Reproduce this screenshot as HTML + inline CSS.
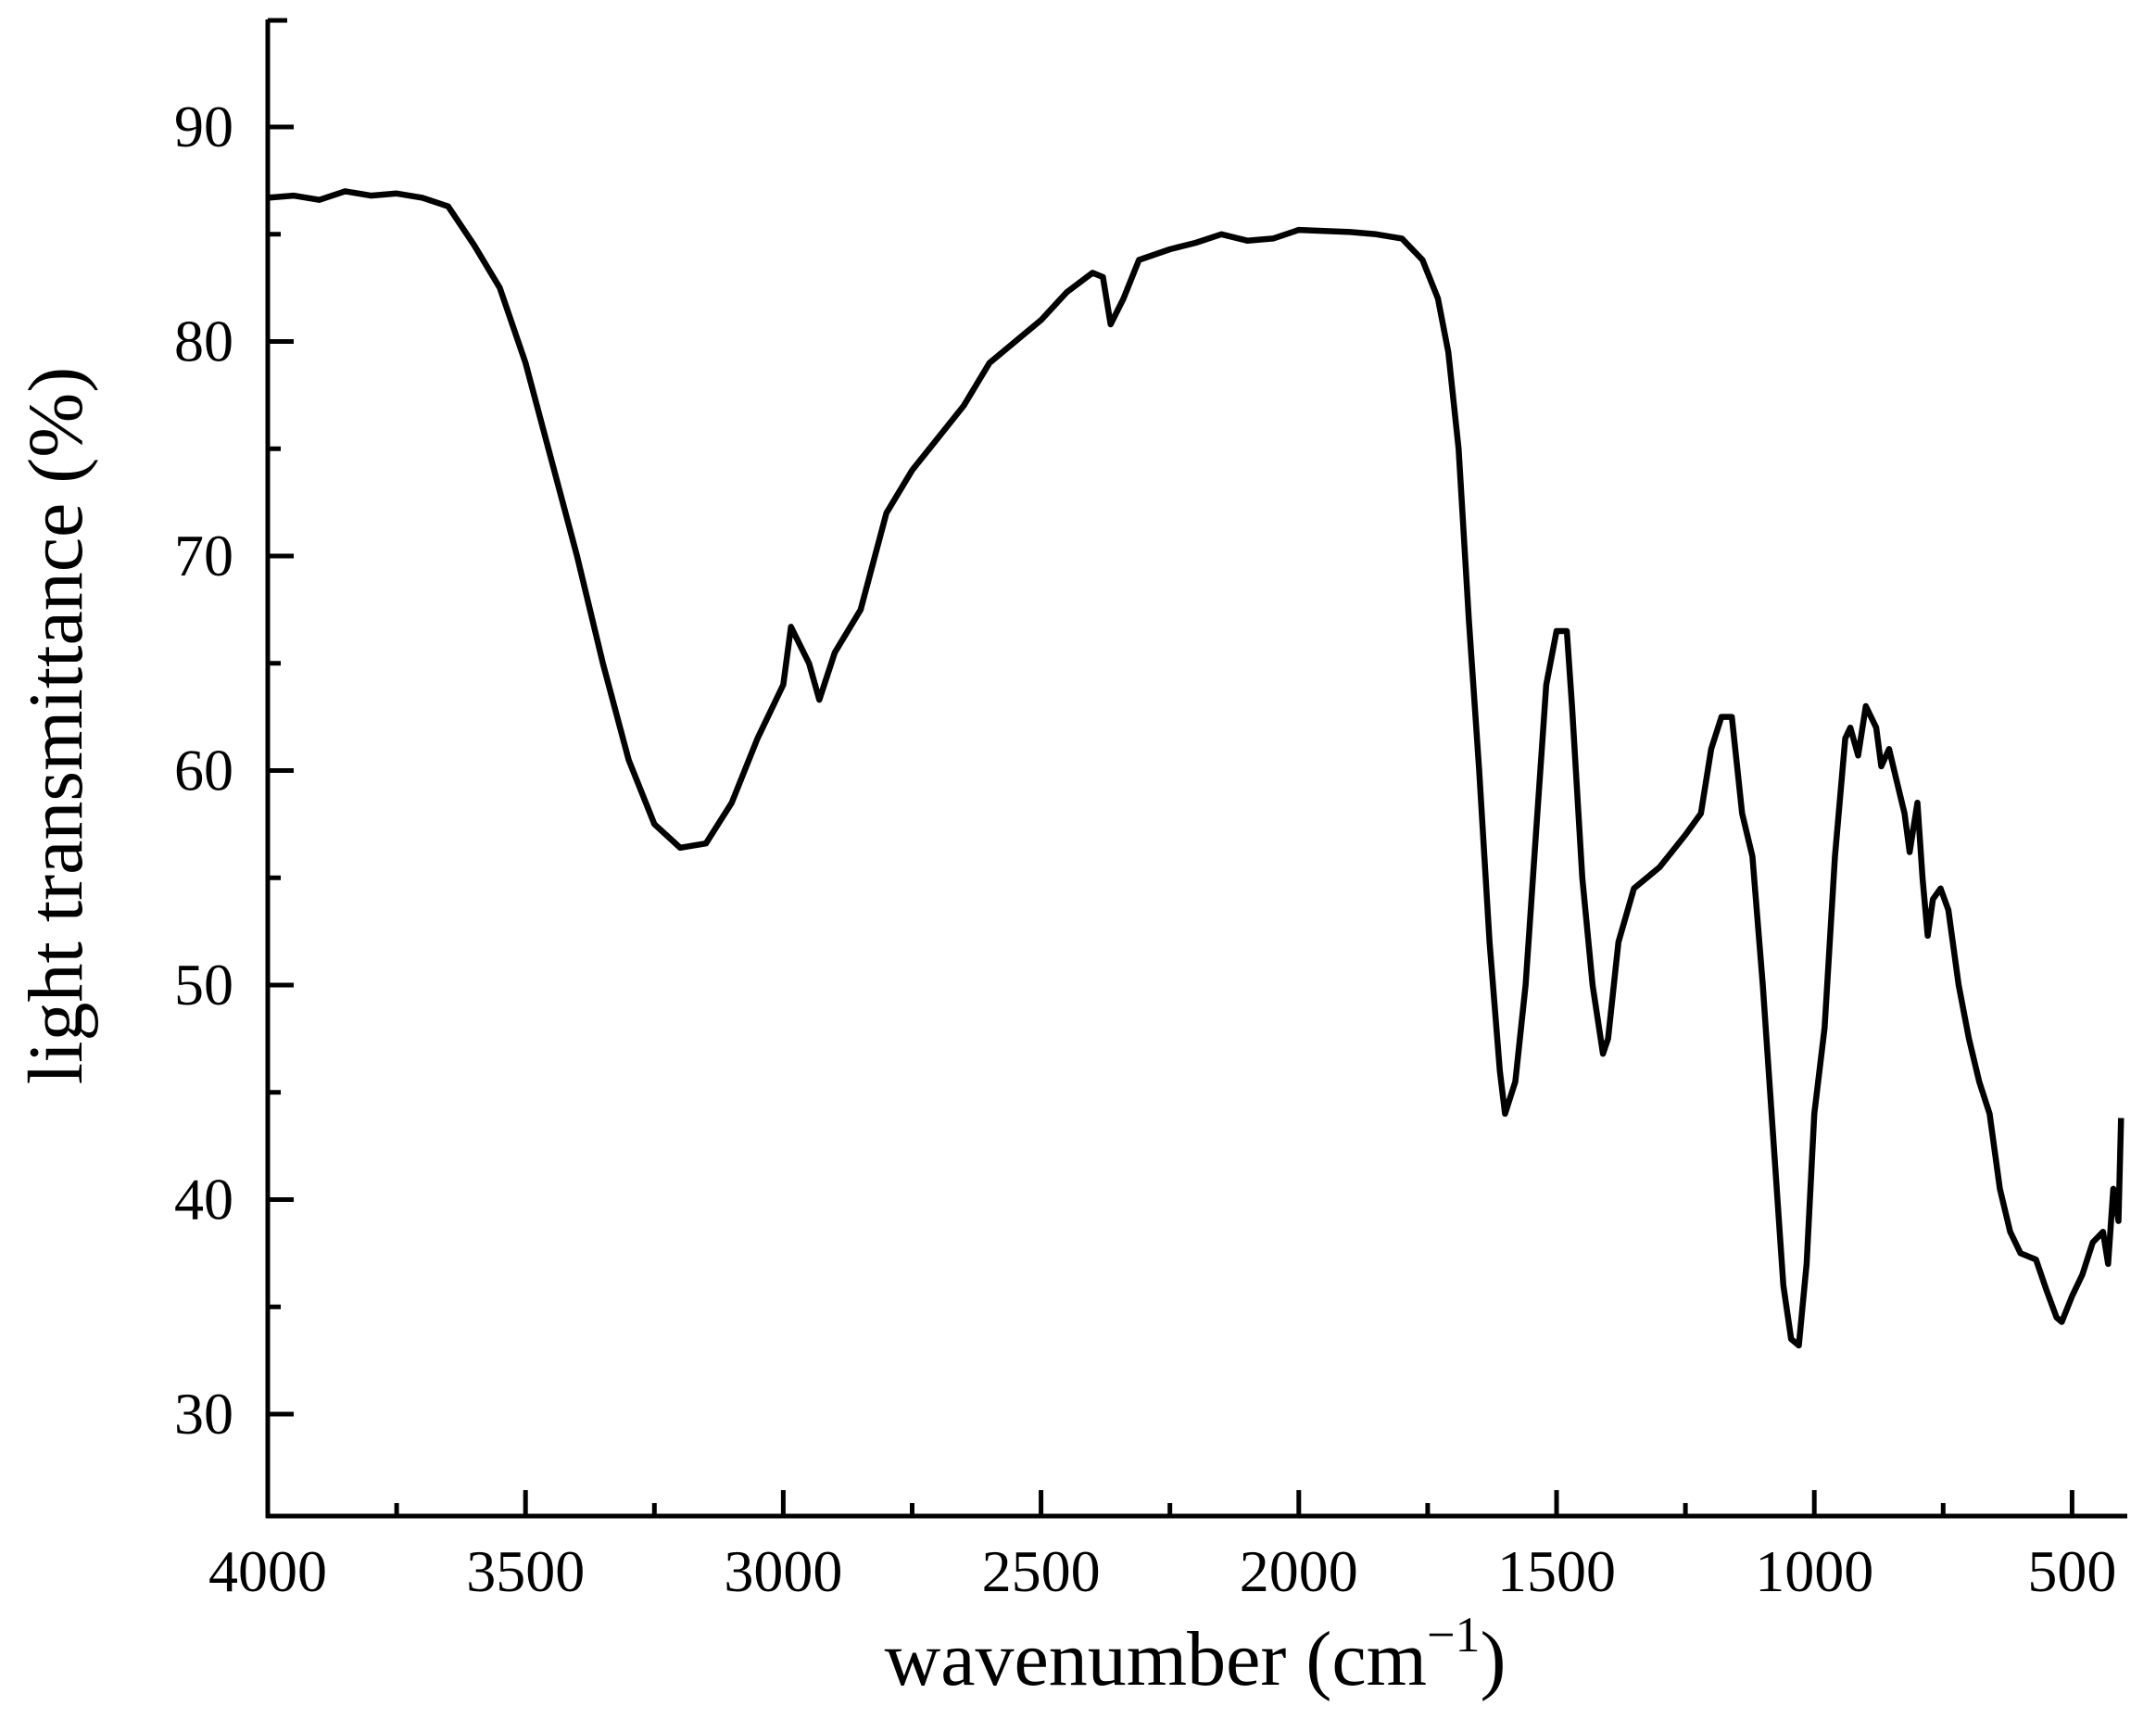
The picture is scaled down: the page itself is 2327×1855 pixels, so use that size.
<!DOCTYPE html>
<html><head><meta charset="utf-8"><style>
html,body{margin:0;padding:0;background:#fff;}
svg text{font-family:"Liberation Serif",serif;fill:#000;}
</style></head><body>
<svg id="chart" width="2327" height="1850" xmlns="http://www.w3.org/2000/svg">
<g id="axes"></g>
<path id="spectrum" fill="none" stroke="#000" stroke-width="6.5" stroke-linejoin="round"/>
<text transform="translate(88,783) rotate(-90)" text-anchor="middle" font-size="84">light transmittance (%)</text>
<text x="1290" y="1818" text-anchor="middle" font-size="84">wavenumber (cm<tspan font-size="54" dy="-36">−1</tspan><tspan dy="36">)</tspan></text>
</svg>
<script>
const wavenumbers=[4000,3950,3900,3850,3800,3750,3700,3650,3600,3550,3500,3450,3400,3350,3300,3250,3200,3150,3100,3050,3000,2985,2950,2930,2900,2850,2800,2750,2700,2650,2600,2550,2500,2450,2400,2380,2365,2340,2310,2250,2200,2150,2100,2050,2000,1900,1850,1800,1760,1730,1710,1690,1670,1650,1630,1610,1600,1580,1560,1540,1520,1500,1480,1470,1450,1430,1410,1400,1380,1350,1300,1250,1220,1200,1180,1160,1140,1120,1100,1080,1060,1045,1030,1015,1000,980,960,940,930,915,900,880,870,855,840,825,815,800,790,780,770,755,740,720,700,680,660,640,620,600,570,550,530,520,500,480,460,440,430,420,410,405];
const transmittance=[86.7,86.8,86.6,87,86.8,86.9,86.7,86.3,84.5,82.5,79,74.5,70,65,60.5,57.5,56.4,56.6,58.5,61.5,64,66.7,65,63.3,65.5,67.5,72,74,75.5,77,79,80,81,82.3,83.2,83,80.8,82,83.8,84.3,84.6,85,84.7,84.8,85.2,85.1,85,84.8,83.8,82,79.5,75,67,60,52,46,44,45.5,50,57,64,66.5,66.5,63,55,50,46.8,47.5,52,54.5,55.5,57,58,61,62.5,62.5,58,56,50,43,36,33.5,33.2,37,44,48,56,61.5,62,60.7,63,62,60.2,61,59.5,58,56.2,58.5,55,52.3,54,54.5,53.5,50,47.5,45.5,44,40.5,38.5,37.5,37.2,35.8,34.5,34.3,35.5,36.5,38,38.5,37,40.5,39,43.8];
const yTicks=[30,40,50,60,70,80,90];
const xTicks=[4000,3500,3000,2500,2000,1500,1000,500];
const sx=w=>289+(4000-w)*278.2/500;
const sy=v=>137+(90-v)*23.15;
const NS='http://www.w3.org/2000/svg';
const ax=document.getElementById('axes');
function el(t,a,p){const e=document.createElementNS(NS,t);for(const k in a)e.setAttribute(k,a[k]);(p||ax).appendChild(e);return e;}
const yl=el('line',{x1:289,y1:21,x2:289,y2:1638,stroke:'#000','stroke-width':5});


const xl=el('line',{x1:287,y1:1636,x2:2296,y2:1636,stroke:'#000','stroke-width':5});


el('line',{x1:289,y1:22,x2:310,y2:22,stroke:'#000','stroke-width':5});
for(let v=25;v<=95;v+=5){
  const major=v%10===0, y=sy(v);
  if(y<22||y>1634)continue;
  const t=el('line',{x1:289,y1:y,x2:289+(major?28:14),y2:y,stroke:'#000','stroke-width':5});
  
  
}
yTicks.forEach(v=>{
  const t=el('text',{x:252,y:sy(v)+21,'text-anchor':'end','font-size':64});
  t.textContent=v;
  
  
});
for(let w=4000;w>=400;w-=250){
  const major=w%500===0, x=sx(w);
  const t=el('line',{x1:x,y1:1636,x2:x,y2:1636-(major?28:14),stroke:'#000','stroke-width':5});
  
  
}
xTicks.forEach(w=>{
  const t=el('text',{x:sx(w),y:1717,'text-anchor':'middle','font-size':64});
  t.textContent=w;
  
  
});
let d='';
wavenumbers.forEach((w,i)=>{d+=(i?'L':'M')+sx(w).toFixed(1)+','+sy(transmittance[i]).toFixed(1);});
document.getElementById('spectrum').setAttribute('d',d);
</script>
</body></html>
